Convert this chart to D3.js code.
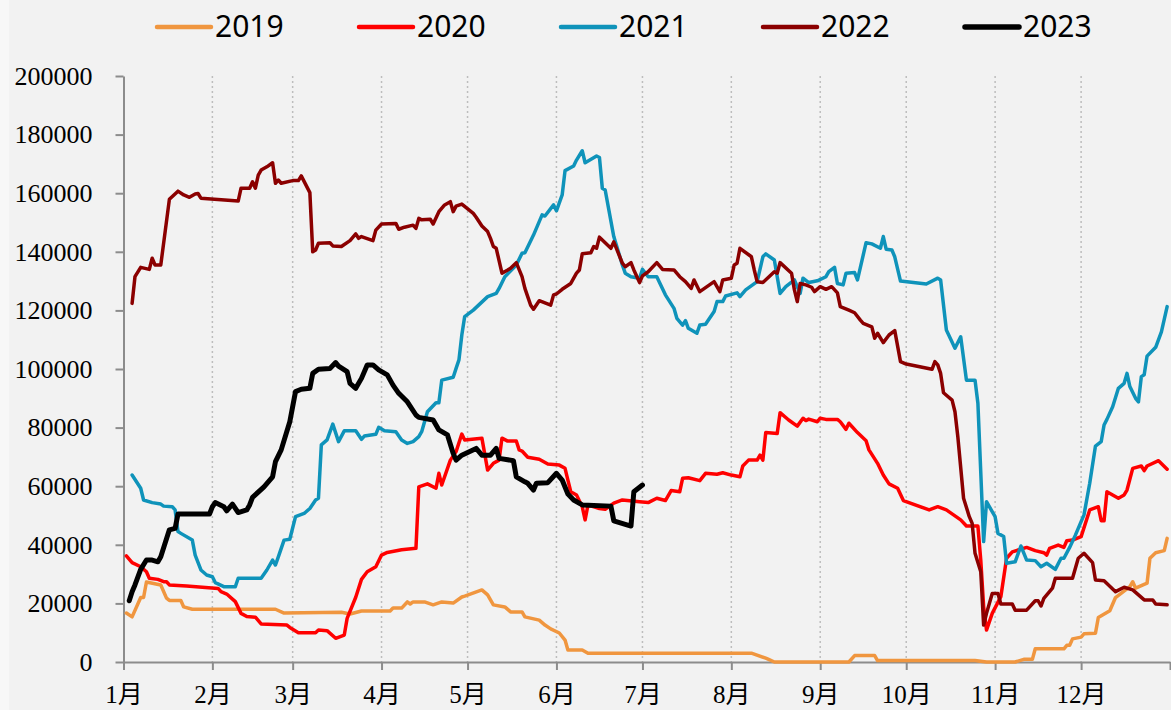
<!DOCTYPE html>
<meta charset="utf-8">
<style>
body { margin: 0; background: #f2f2f2; }
svg { display: block; }
.line { fill: none; stroke-linejoin: round; stroke-linecap: round; }
.grid line { stroke: #bdbdbd; stroke-width: 1.5; stroke-dasharray: 2,3; }
.axis path, .axis line { stroke: #8c8c8c; stroke-width: 2; }
.axis text { font-family: "Liberation Serif", "Noto Sans CJK SC", serif; fill: #000; }
.legend text { font-family: "Noto Sans", sans-serif; font-size: 30px; fill: #000; }
</style>
<body>
<div id="chart"></div>
<script src="https://d3js.org/d3.v7.min.js"></script>
<script>
// series: [MM-DD, value]
var s2019 = [["01-02",16700],["01-04",15400],["01-07",22000],["01-08",22000],["01-09",27300],["01-14",26300],["01-16",21800],["01-17",21000],["01-21",21000],["01-22",18800],["01-25",18000],["02-23",18000],["02-26",16700],["03-18",17000],["03-21",16400],["03-25",17400],["04-04",17400],["04-05",18400],["04-08",18400],["04-10",20500],["04-11",19800],["04-12",20500],["04-16",20500],["04-19",19500],["04-22",20500],["04-26",20100],["04-29",22200],["04-30",22500],["05-06",24600],["05-08",22900],["05-10",19500],["05-14",18800],["05-16",17100],["05-20",17100],["05-21",15400],["05-26",14300],["05-28",12600],["05-30",11300],["06-02",9900],["06-04",7500],["06-05",4100],["06-10",4100],["06-12",3000],["08-08",3000],["08-13",1300],["08-14",900],["08-16",0],["09-11",0],["09-13",2200],["09-20",2200],["09-21",500],["10-25",500],["10-29",0],["11-08",0],["11-11",900],["11-14",900],["11-15",4500],["11-25",4500],["11-26",5700],["11-27",5700],["11-28",7900],["12-01",8500],["12-02",9600],["12-06",9800],["12-07",15200],["12-11",17500],["12-13",22000],["12-18",25700],["12-19",27400],["12-20",25200],["12-24",26900],["12-25",35400],["12-27",37300],["12-30",38000],["12-31",42200]];

var s2020 = [["01-02",36200],["01-04",33900],["01-07",32500],["01-09",30800],["01-10",28600],["01-13",28200],["01-15",27400],["01-16",27400],["01-17",26300],["01-23",25900],["02-03",25100],["02-04",24000],["02-06",23200],["02-09",20600],["02-11",16600],["02-13",15500],["02-16",15300],["02-18",13000],["02-27",12600],["02-28",11800],["03-03",10000],["03-09",10000],["03-10",10900],["03-13",10700],["03-16",8100],["03-19",9200],["03-20",14900],["03-23",22100],["03-25",28200],["03-27",30800],["03-30",32500],["04-01",36500],["04-03",37400],["04-08",38300],["04-13",38800],["04-14",59800],["04-17",60800],["04-20",59300],["04-21",64400],["04-22",60400],["04-25",68900],["04-27",71800],["04-29",77800],["04-30",75800],["05-06",76400],["05-08",65500],["05-10",67800],["05-12",68900],["05-13",76400],["05-15",75400],["05-18",75400],["05-19",72400],["05-20",72000],["05-22",69900],["05-26",69200],["05-29",67600],["06-02",67200],["06-04",66100],["06-05",62100],["06-06",58100],["06-08",57000],["06-10",53000],["06-11",48500],["06-12",53600],["06-16",52400],["06-18",52100],["06-21",54200],["06-24",55300],["06-30",54700],["07-03",54400],["07-06",55900],["07-09",55100],["07-11",58500],["07-14",58100],["07-15",62700],["07-17",62900],["07-21",61900],["07-23",64400],["07-27",64100],["07-29",64600],["08-01",63800],["08-04",63200],["08-05",66900],["08-07",68900],["08-10",68900],["08-11",70600],["08-12",68900],["08-13",78300],["08-17",78000],["08-18",85100],["08-21",82600],["08-24",80500],["08-26",83200],["08-27",82400],["08-28",82900],["08-31",82000],["09-01",83200],["09-03",82800],["09-07",82800],["09-08",82000],["09-10",79400],["09-11",81500],["09-14",78300],["09-17",75500],["09-18",72400],["09-21",67800],["09-23",63800],["09-25",60800],["09-28",59300],["09-30",55100],["10-09",51900],["10-12",53000],["10-15",51900],["10-20",48500],["10-22",46400],["10-26",46400],["10-27",34800],["10-28",18900],["10-29",10900],["10-31",16600],["11-03",22300],["11-05",35400],["11-07",37600],["11-12",39100],["11-15",38000],["11-18",37300],["11-19",36500],["11-20",38800],["11-23",39900],["11-25",39100],["11-26",41400],["11-28",41600],["12-01",42800],["12-04",51900],["12-07",53000],["12-08",48200],["12-09",48200],["12-10",58100],["12-14",55900],["12-16",57000],["12-17",58700],["12-19",66100],["12-22",66900],["12-23",65300],["12-24",66900],["12-28",68700],["12-31",65800]];

var s2021 = [["01-04",63800],["01-07",59300],["01-08",55300],["01-11",54400],["01-14",53900],["01-15",53200],["01-18",53000],["01-19",51900],["01-20",44500],["01-21",43900],["01-25",41600],["01-26",36500],["01-28",31400],["01-30",29700],["02-01",29100],["02-02",27100],["02-05",25700],["02-09",25700],["02-10",28600],["02-18",28600],["02-20",31400],["02-22",34800],["02-23",33100],["02-24",35900],["02-26",41600],["02-28",41900],["03-02",49600],["03-05",50700],["03-07",52400],["03-09",55300],["03-10",55900],["03-11",74100],["03-13",75800],["03-15",81200],["03-17",75200],["03-19",78900],["03-23",78900],["03-25",76000],["03-26",77100],["03-30",77700],["03-31",80100],["04-02",78900],["04-06",78600],["04-08",75800],["04-10",74600],["04-12",75200],["04-14",76900],["04-15",78600],["04-17",85400],["04-20",88500],["04-21",88500],["04-22",96200],["04-26",97200],["04-27",100200],["04-28",103100],["04-29",111600],["04-30",117900],["05-03",120100],["05-08",124700],["05-11",125800],["05-12",127500],["05-14",131500],["05-18",135500],["05-20",139500],["05-21",139700],["05-24",145700],["05-27",152600],["05-28",152200],["05-31",156000],["06-01",154000],["06-03",159400],["06-04",167700],["06-07",169300],["06-08",171300],["06-10",174500],["06-11",170400],["06-15",172700],["06-16",172200],["06-17",161700],["06-18",161100],["06-21",145200],["06-24",135500],["06-25",132700],["06-27",131500],["06-30",131000],["07-01",134000],["07-03",131500],["07-06",131500],["07-09",125300],["07-12",120700],["07-13",117300],["07-15",115000],["07-16",116500],["07-17",113900],["07-20",112200],["07-21",115000],["07-23",115300],["07-26",119600],["07-27",123000],["07-29",123000],["07-30",124900],["08-03",126000],["08-04",124700],["08-06",127000],["08-10",129800],["08-12",138300],["08-13",139300],["08-16",137200],["08-18",125800],["08-20",128100],["08-23",130400],["08-25",125800],["08-26",131000],["08-28",129500],["08-31",130100],["09-03",131500],["09-04",133200],["09-06",134700],["09-07",129200],["09-09",128700],["09-10",132700],["09-13",132900],["09-14",130400],["09-17",143100],["09-19",142700],["09-22",141200],["09-23",145200],["09-24",140900],["09-26",140600],["09-27",138300],["09-29",130000],["10-08",129000],["10-12",131000],["10-13",130400],["10-15",113300],["10-18",107100],["10-20",111000],["10-22",96200],["10-25",96200],["10-26",88300],["10-28",41100],["10-29",54700],["11-01",49600],["11-02",43900],["11-04",42800],["11-05",33700],["11-08",34200],["11-10",39600],["11-12",34800],["11-15",34600],["11-17",32500],["11-19",33700],["11-22",31600],["11-24",35400],["11-25",35400],["11-27",39100],["11-29",43300],["12-02",50200],["12-04",61000],["12-06",73700],["12-08",75200],["12-09",80900],["12-10",82800],["12-12",87100],["12-14",93400],["12-16",95100],["12-17",98500],["12-18",94000],["12-20",90000],["12-21",88800],["12-22",97400],["12-23",98000],["12-24",104400],["12-27",107400],["12-29",112700],["12-31",121300]];

var s2022 = [["01-04",122400],["01-05",131500],["01-07",134700],["01-10",134000],["01-11",137800],["01-12",135500],["01-14",135500],["01-17",157900],["01-20",160700],["01-22",159400],["01-24",158600],["01-26",159700],["01-27",159900],["01-28",158300],["02-10",157300],["02-11",161700],["02-14",161700],["02-15",163900],["02-16",161700],["02-17",166200],["02-18",167900],["02-20",169000],["02-22",170400],["02-23",163400],["02-24",164500],["02-25",163400],["03-01",164300],["03-03",164300],["03-04",165900],["03-07",160200],["03-08",140000],["03-09",140600],["03-10",142900],["03-14",143100],["03-15",142000],["03-18",141800],["03-21",143800],["03-23",146100],["03-24",144600],["03-25",145200],["03-29",143800],["03-30",147400],["04-01",149500],["04-06",149700],["04-07",147700],["04-09",148400],["04-12",149100],["04-13",148000],["04-14",151400],["04-15",150900],["04-18",151100],["04-19",149500],["04-21",153700],["04-23",156000],["04-25",157100],["04-26",153700],["04-27",155600],["04-29",156300],["05-03",153100],["05-04",151800],["05-06",148800],["05-08",146900],["05-09",144600],["05-10",141800],["05-11",141200],["05-13",132700],["05-15",133800],["05-16",134400],["05-18",136300],["05-20",131500],["05-21",127500],["05-23",121800],["05-24",120400],["05-26",123300],["05-30",121800],["05-31",125300],["06-01",125600],["06-03",127200],["06-06",129200],["06-08",132700],["06-09",133800],["06-10",139300],["06-13",139700],["06-14",141800],["06-15",141200],["06-16",145000],["06-20",141200],["06-21",143400],["06-24",136100],["06-25",134900],["06-27",136300],["06-28",133800],["06-30",129500],["07-01",131800],["07-03",133200],["07-06",136300],["07-08",134000],["07-12",133800],["07-14",131500],["07-16",129800],["07-18",127500],["07-19",130400],["07-21",126400],["07-26",129800],["07-28",126400],["07-29",130400],["08-01",131000],["08-02",135500],["08-03",136100],["08-04",141200],["08-08",138300],["08-09",133800],["08-10",129800],["08-12",129500],["08-16",133200],["08-17",132700],["08-18",136300],["08-22",132700],["08-23",127000],["08-24",123000],["08-25",129200],["08-27",128700],["08-29",127900],["08-30",126400],["09-01",128100],["09-03",127200],["09-05",128100],["09-07",126000],["09-08",121300],["09-11",120100],["09-13",119200],["09-15",116700],["09-16",115600],["09-19",114400],["09-20",110500],["09-21",112200],["09-23",109000],["09-25",111600],["09-27",113100],["09-29",102500],["10-01",101700],["10-10",99900],["10-11",102500],["10-12",101400],["10-13",98500],["10-14",91900],["10-17",89400],["10-18",85400],["10-19",76900],["10-21",55900],["10-23",49600],["10-24",47300],["10-25",37100],["10-27",30800],["10-28",12600],["10-29",16600],["10-31",23400],["11-02",23400],["11-03",19800],["11-07",19800],["11-08",17700],["11-12",17700],["11-15",20900],["11-16",20900],["11-17",19100],["11-18",21700],["11-21",25200],["11-22",28600],["11-28",28600],["11-30",35400],["12-02",37100],["12-05",33900],["12-06",28000],["12-09",27700],["12-13",24000],["12-16",25500],["12-19",24600],["12-23",21200],["12-26",21200],["12-27",19800],["12-31",19500]];

var s2023 = [["01-03",20900],["01-04",24000],["01-05",26300],["01-07",31600],["01-09",34800],["01-11",34800],["01-13",34200],["01-14",35900],["01-17",45100],["01-19",45600],["01-20",50500],["01-31",50500],["02-01",53000],["02-02",54400],["02-05",53000],["02-06",51600],["02-08",53900],["02-10",51000],["02-13",51900],["02-14",53600],["02-15",56200],["02-19",59800],["02-22",63200],["02-23",68400],["02-25",72400],["02-28",82000],["03-02",92300],["03-04",93100],["03-07",93400],["03-08",98500],["03-10",99900],["03-14",100200],["03-16",102200],["03-17",101000],["03-20",99100],["03-21",95100],["03-23",93400],["03-25",96800],["03-27",101400],["03-29",101400],["03-31",99700],["04-03",98000],["04-05",94500],["04-07",91700],["04-10",88800],["04-13",84300],["04-14",83500],["04-19",82600],["04-21",79200],["04-24",77500],["04-26",71200],["04-27",68900],["04-29",70600],["05-04",72900],["05-06",70600],["05-09",70600],["05-11",72900],["05-12",69500],["05-17",68700],["05-18",63200],["05-21",61500],["05-22",61000],["05-24",58700],["05-25",61000],["05-29",61200],["06-01",64400],["06-03",62100],["06-05",57300],["06-07",55300],["06-10",53600],["06-20",53200],["06-21",48200],["06-27",46400],["06-28",58100],["07-01",60400]];

var years = ["2019", "2020", "2021", "2022", "2023"];
var colors = ["#f0963f", "#ff0000", "#0f93ba", "#8b0000", "#000000"];
var seriesList = [s2019, s2020, s2021, s2022, s2023];
var monthLabels = ["1月","2月","3月","4月","5月","6月","7月","8月","9月","10月","11月","12月",""];
var yTicks = [0, 20000, 40000, 60000, 80000, 100000, 120000, 140000, 160000, 180000, 200000];

var W = 1171, H = 710;
var plotLeft = 123.5, plotRight = 1170, plotTop = 76, plotBottom = 662;

var parseDay = function(s) {
  var p = s.split("-");
  return new Date(2001, +p[0] - 1, +p[1]);
};

var xScale = d3.scaleTime()
    .domain([new Date(2001, 0, 1), new Date(2002, 0, 1)])
    .range([plotLeft, plotRight]);
var yScale = d3.scaleLinear()
    .domain([0, 200000])
    .range([plotBottom, plotTop]);

var monthStarts = d3.range(13).map(function(m) { return new Date(2001, m, 1); });

var svg = d3.select("#chart").append("svg")
    .attr("width", W)
    .attr("height", H);

svg.append("rect").attr("width", W).attr("height", H).attr("fill", "#f2f2f2");
svg.append("rect").attr("width", 9).attr("height", H).attr("fill", "#f7f7f7");

// dotted month gridlines
svg.append("g").attr("class", "grid")
  .selectAll("line")
  .data(monthStarts.slice(1, 12))
  .enter().append("line")
    .attr("x1", function(d) { return xScale(d); })
    .attr("x2", function(d) { return xScale(d); })
    .attr("y1", plotTop)
    .attr("y2", plotBottom);

// y axis
var yAxis = svg.append("g")
    .attr("class", "axis")
    .attr("transform", "translate(" + plotLeft + ",0)")
    .call(d3.axisLeft(yScale).tickValues(yTicks).tickFormat(d3.format("d"))
      .tickSize(8).tickPadding(23).tickSizeOuter(0));
yAxis.selectAll("text").style("font-size", "26px");

// x axis
var xAxis = svg.append("g")
    .attr("class", "axis")
    .attr("transform", "translate(0," + plotBottom + ")")
    .call(d3.axisBottom(xScale).tickValues(monthStarts).tickSize(8).tickSizeOuter(0)
      .tickFormat(function(d, i) { return monthLabels[i]; }));
xAxis.selectAll("text").style("font-size", "25px").attr("y", 23);

var line = d3.line()
    .x(function(d) { return xScale(parseDay(d[0])); })
    .y(function(d) { return yScale(d[1]); });

svg.append("clipPath").attr("id", "plot")
  .append("rect").attr("x", plotLeft).attr("y", 0).attr("width", plotRight - plotLeft + 1).attr("height", H);

svg.append("g").attr("clip-path", "url(#plot)")
  .selectAll("path")
  .data(seriesList)
  .enter().append("path")
    .attr("class", "line")
    .attr("d", line)
    .attr("stroke", function(d, i) { return colors[i]; })
    .attr("stroke-width", function(d, i) { return i === 4 ? 5 : 3.5; });

// legend
var legend = svg.append("g").attr("class", "legend");
years.forEach(function(y, i) {
  var lx = 157 + i * 202;
  legend.append("line")
    .attr("x1", lx).attr("x2", lx + 54)
    .attr("y1", 27).attr("y2", 27)
    .attr("stroke", colors[i])
    .attr("stroke-width", i === 4 ? 5.5 : 4.5)
    .attr("stroke-linecap", "round");
  legend.append("text")
    .attr("x", lx + 58)
    .attr("y", 37)
    .text(y);
});
</script>
</body>
